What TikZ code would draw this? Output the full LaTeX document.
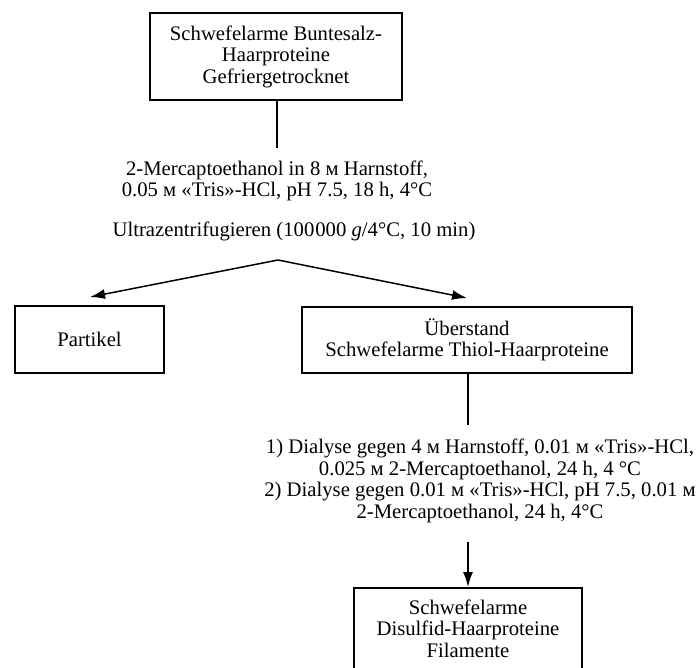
\documentclass[tikz,border=0pt]{standalone}
\usepackage{fontspec}
\setmainfont{Liberation Serif}
\usetikzlibrary{arrows.meta}
\begin{document}
\begin{tikzpicture}[x=1pt,y=-1pt,
  box/.style={draw, line width=1.5pt, align=center, inner sep=0pt},
  lbl/.style={align=center, inner sep=0pt},
  conn/.style={line width=1.5pt},
  arr/.style={line width=1.5pt, -{Latex[length=15pt,width=10pt]}},
  every node/.style={font=\fontsize{20.7}{21.5}\selectfont}]
\useasboundingbox (0,0) rectangle (698,667);
\node[box, minimum width=252pt, minimum height=87pt] (top) at (276,56.5)
  {Schwefelarme Buntesalz-\\Haarproteine\\Gefriergetrocknet};
\coordinate (c1) at (277,148);
\draw[conn] (top.south -| c1) -- (c1);
\node[lbl] (reag) at (277,181) {2-Mercaptoethanol in 8 м Harnstoff,\\0.05 м «Tris»-HCl, pH 7.5, 18 h, 4°C};
\node[lbl] (uz) at (294,231) {Ultrazentrifugieren (100\kern1pt000 \textit{g}/4°C, 10 min)};
\coordinate (apex) at (278,260);
\node[box, minimum width=149pt, minimum height=67pt] (part) at (89.5,339.5) {Partikel};
\node[box, minimum width=330pt, minimum height=66pt] (ueb) at (467,340)
  {Überstand\\Schwefelarme Thiol-Haarproteine};
\coordinate (lt) at (90,297);
\coordinate (rt) at (467,298);
\draw[arr] (apex) -- (lt);
\draw[arr] (apex) -- (rt);
\coordinate (c2) at (468,425);
\draw[conn] (ueb.south -| c2) -- (c2);
\node[lbl] (dial) at (480,481) {1) Dialyse gegen 4 м Harnstoff, 0.01 м «Tris»-HCl,\\0.025 м 2-Mercaptoethanol, 24 h, 4 °C\\2) Dialyse gegen 0.01 м «Tris»-HCl, pH 7.5, 0.01 м\\2-Mercaptoethanol, 24 h, 4°C};
\node[box, anchor=north, minimum width=228pt, minimum height=82pt] (bot) at (468,587)
  {Schwefelarme\\Disulfid-Haarproteine\\Filamente};
\coordinate (c3) at (468,542);
\draw[arr] (c3) -- (bot.north);
\end{tikzpicture}
\end{document}
